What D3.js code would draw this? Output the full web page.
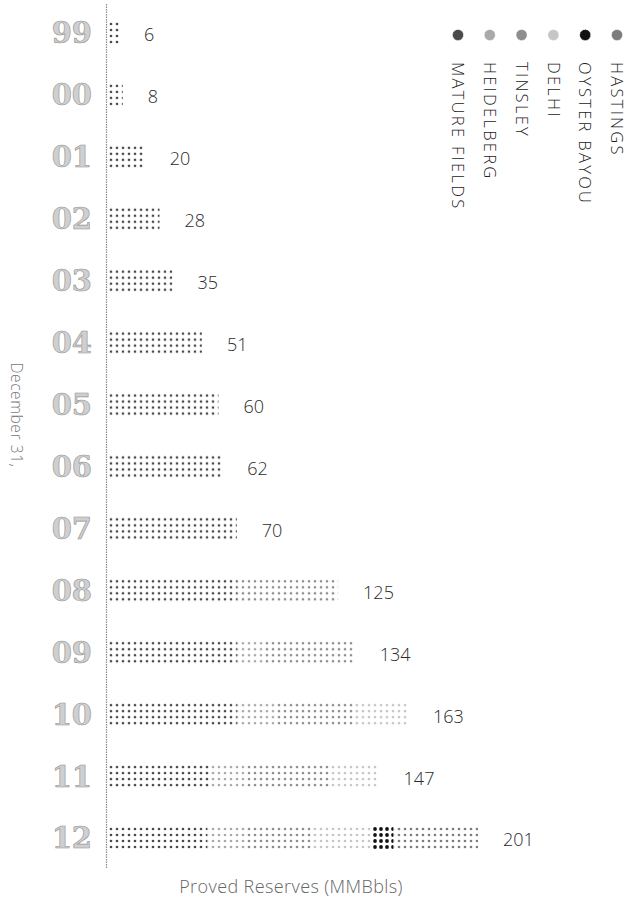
<!DOCTYPE html>
<html>
<head>
<meta charset="utf-8">
<script src="https://cdn.jsdelivr.net/npm/d3@7"></script>
<style>
  body { margin: 0; background: #fff; }
  svg text { font-family: "Open Sans", "DejaVu Sans", sans-serif; }
</style>
</head>
<body>
<div id="chart"></div>
<script>
// data (MMBbls, December 31 of each year)
const years = ["99","00","01","02","03","04","05","06","07","08","09","10","11","12"];
const totals = [6, 8, 20, 28, 35, 51, 60, 62, 70, 125, 134, 163, 147, 201];
const matureFields = [6, 8, 20, 28, 35, 51, 60, 62, 70, 70, 70, 70, 56, 54];
const heidelberg   = [0, 0, 0, 0, 0, 0, 0, 0, 0, 0, 14, 20, 20, 20];
const tinsley      = [0, 0, 0, 0, 0, 0, 0, 0, 0, 55, 50, 45, 44, 38];
const delhi        = [0, 0, 0, 0, 0, 0, 0, 0, 0, 0, 0, 28, 27, 32];
const oysterBayou  = [0, 0, 0, 0, 0, 0, 0, 0, 0, 0, 0, 0, 0, 11];
const hastings     = [0, 0, 0, 0, 0, 0, 0, 0, 0, 0, 0, 0, 0, 46];

const fields = ["MATURE FIELDS", "HEIDELBERG", "TINSLEY", "DELHI", "OYSTER BAYOU", "HASTINGS"];
const fieldColors = ["#4a4a4a", "#a9a9a9", "#8e8e8e", "#c6c6c6", "#111111", "#7c7c7c"];

const width = 641, height = 899;
const margin = {top: 33, left: 108};

// table for the stack
let series = [matureFields, heidelberg, tinsley, delhi, oysterBayou, hastings];
let table = years.map(function(y, i) {
    let row = {year: y, total: totals[i]};
    fields.forEach(function(f, j) { row[f] = series[j][i]; });
    return row;
});

let svg = d3.select("#chart").append("svg")
    .attr("width", width)
    .attr("height", height);

// dot patterns, one per field
let defs = svg.append("defs");
fields.forEach(function(f, j) {
    let p = defs.append("pattern")
        .attr("id", "dots" + j)
        .attr("patternUnits", "userSpaceOnUse")
        .attr("width", 6)
        .attr("height", 6);
    p.append("circle")
        .attr("cx", 3)
        .attr("cy", 3)
        .attr("r", j == 4 ? 1.9 : 1.35)
        .attr("fill", fieldColors[j]);
});

let x = d3.scaleLinear().domain([0, 201]).range([margin.left, 478]);
let y = d3.scalePoint().domain(years).range([margin.top, 838]);
let color = d3.scaleOrdinal().domain(fields).range(fieldColors);

let stacked = d3.stack().keys(fields)(table);

// axis line
svg.append("line")
    .attr("x1", 106.5).attr("x2", 106.5)
    .attr("y1", 4).attr("y2", 868)
    .attr("stroke", "#8a8a8a")
    .attr("stroke-width", 1.2)
    .attr("stroke-dasharray", "1.5,1");

// bars, one group per year so the dot grid lines up with each bar
let rows = svg.selectAll("g.year")
    .data(table)
    .enter()
    .append("g")
    .attr("class", "year")
    .attr("transform", function(d) { return "translate(0," + (y(d.year) - 12) + ")"; });

rows.each(function(d, i) {
    let g = d3.select(this);
    stacked.forEach(function(s, j) {
        let seg = s[i];
        if (seg[1] - seg[0] <= 0) return;
        g.append("rect")
            .attr("x", x(seg[0]))
            .attr("y", 0)
            .attr("width", x(seg[1]) - x(seg[0]))
            .attr("height", 24)
            .attr("fill", "url(#dots" + j + ")");
    });
});

// year labels
svg.selectAll("text.yr")
    .data(years)
    .enter()
    .append("text")
    .attr("class", "yr")
    .attr("x", 92)
    .attr("y", function(d) { return y(d); })
    .attr("dy", "0.36em")
    .attr("text-anchor", "end")
    .style("font-family", "'DejaVu Serif', serif")
    .style("font-weight", "bold")
    .style("font-size", "29px")
    .attr("fill", "#cfcfcf")
    .attr("stroke", "#939393")
    .attr("stroke-width", 0.6)
    .text(function(d) { return d; });

// value labels
svg.selectAll("text.val")
    .data(table)
    .enter()
    .append("text")
    .attr("class", "val")
    .attr("x", function(d) { return x(d.total) + 25; })
    .attr("y", function(d) { return y(d.year) + 2; })
    .attr("dy", "0.36em")
    .style("font-size", "18px")
    .style("font-weight", 300)
    .attr("fill", "#2a2a2a")
    .text(function(d) { return d.total; });

// legend: dot + vertical name
let lx = d3.scalePoint().domain(fields).range([458, 617]);
let legend = svg.selectAll("g.legend")
    .data(fields)
    .enter()
    .append("g")
    .attr("class", "legend")
    .attr("transform", function(d) { return "translate(" + lx(d) + ",0)"; });

legend.append("circle")
    .attr("cx", 0)
    .attr("cy", 35)
    .attr("r", 5.5)
    .attr("fill", function(d) { return color(d); })
    .attr("stroke", "#fff")
    .attr("stroke-width", 0.8)
    .attr("stroke-dasharray", "1,1");

legend.append("text")
    .attr("transform", "translate(0,62) rotate(90)")
    .attr("dy", "0.35em")
    .style("font-size", "16.5px")
    .style("font-weight", 300)
    .style("letter-spacing", "2.3px")
    .attr("fill", "#222")
    .text(function(d) { return d; });

// axis titles
svg.append("text")
    .attr("transform", "translate(16,415) rotate(90)")
    .attr("text-anchor", "middle")
    .attr("dy", "0.35em")
    .style("font-size", "15.5px")
    .style("font-weight", 300)
    .style("letter-spacing", "0.6px")
    .attr("fill", "#777")
    .text("December 31,");

svg.append("text")
    .attr("x", 291)
    .attr("y", 893)
    .attr("text-anchor", "middle")
    .style("font-size", "18px")
    .style("font-weight", 300)
    .style("letter-spacing", "0.4px")
    .attr("fill", "#666")
    .text("Proved Reserves (MMBbls)");
</script>
</body>
</html>
